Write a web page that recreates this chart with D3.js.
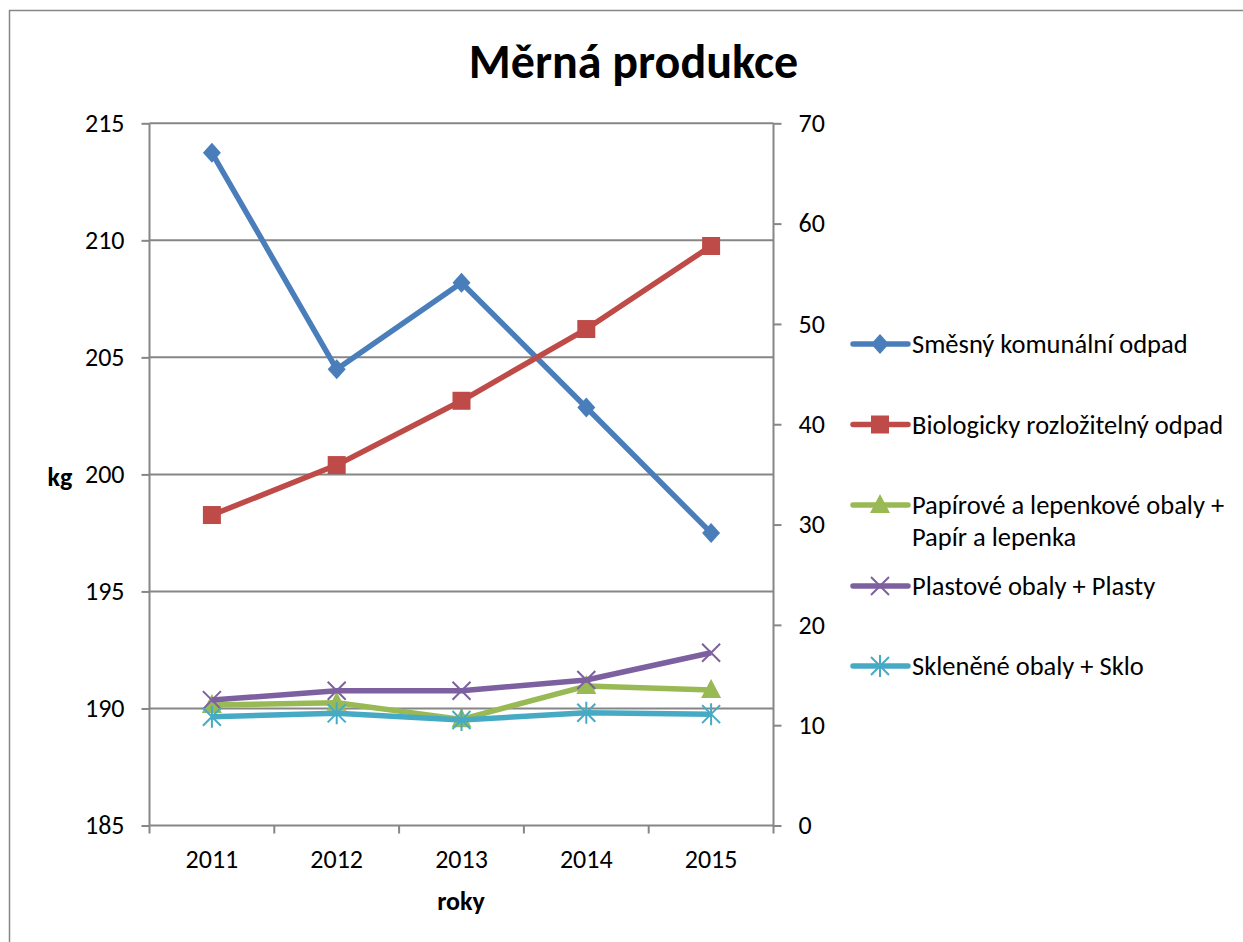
<!DOCTYPE html>
<html>
<head>
<meta charset="utf-8">
<script src="https://cdn.jsdelivr.net/npm/d3@7"></script>
<style>
  body { margin: 0; background: #fff; }
  svg text { font-family: Calibri, Carlito, Lato, sans-serif; fill: #000; }
</style>
</head>
<body>
<script>
// data
var years = ["2011", "2012", "2013", "2014", "2015"];
var smesny = [213.74, 204.49, 208.19, 202.86, 197.5];    // left axis
var bio = [30.95, 35.93, 42.34, 49.49, 57.77];           // right axis
var papir = [12.0, 12.23, 10.58, 13.9, 13.5];
var plasty = [12.5, 13.43, 13.43, 14.5, 17.22];
var sklo = [10.84, 11.18, 10.51, 11.24, 11.1];
var leftTicks = [185, 190, 195, 200, 205, 210, 215];
var rightTicks = [0, 10, 20, 30, 40, 50, 60, 70];

var series = [
  {name: "Směsný komunální odpad", values: smesny, axis: "left", color: "#4A7EBB", marker: "diamond"},
  {name: "Biologicky rozložitelný odpad", values: bio, axis: "right", color: "#BE4B48", marker: "square"},
  {name: ["Papírové a lepenkové obaly +", "Papír a lepenka"], values: papir, axis: "right", color: "#98B954", marker: "triangle"},
  {name: "Plastové obaly + Plasty", values: plasty, axis: "right", color: "#7D60A0", marker: "x"},
  {name: "Skleněné obaly + Sklo", values: sklo, axis: "right", color: "#46AAC5", marker: "star"}
];

var width = 1243, height = 942;
var plot = {left: 149.5, right: 773.5, top: 123.3, bottom: 825.5};
var gridColor = "#868686";

var svg = d3.select("body").append("svg")
  .attr("width", width)
  .attr("height", height);

// chart frame
svg.append("rect")
  .attr("x", 9.5).attr("y", 10.5)
  .attr("width", 1260).attr("height", 960)
  .style("fill", "none").style("stroke", gridColor).style("stroke-width", 1.5);

var x = d3.scaleBand().domain(years).range([plot.left, plot.right]);
var yL = d3.scaleLinear().domain([185, 215]).range([plot.bottom, plot.top]);
var yR = d3.scaleLinear().domain([0, 70]).range([plot.bottom, plot.top]);

// gridlines
svg.append("g").selectAll("line")
  .data(leftTicks.slice(1))
  .enter().append("line")
  .attr("x1", plot.left).attr("x2", plot.right)
  .attr("y1", function(d){ return yL(d); })
  .attr("y2", function(d){ return yL(d); })
  .style("stroke", gridColor).style("stroke-width", 2);

// left axis
var leftAxis = svg.append("g")
  .attr("transform", "translate(" + plot.left + ",0)")
  .call(d3.axisLeft(yL).tickValues(leftTicks).tickSize(8).tickPadding(17).tickFormat(d3.format("d")));

// right axis
var rightAxis = svg.append("g")
  .attr("transform", "translate(" + plot.right + ",0)")
  .call(d3.axisRight(yR).tickValues(rightTicks).tickSize(8).tickPadding(17).tickFormat(d3.format("d")));

// bottom axis, ticks on category boundaries
var bottomAxis = svg.append("g")
  .attr("transform", "translate(0," + plot.bottom + ")")
  .call(d3.axisBottom(x).tickSize(0).tickPadding(24));
bottomAxis.selectAll(".bound")
  .data(d3.range(years.length + 1))
  .enter().append("line")
  .attr("class", "bound")
  .attr("x1", function(i){ return plot.left + i * x.step(); })
  .attr("x2", function(i){ return plot.left + i * x.step(); })
  .attr("y1", 0).attr("y2", 8)
  .style("stroke", gridColor).style("stroke-width", 2);

[leftAxis, rightAxis, bottomAxis].forEach(function(a){
  a.select(".domain").style("stroke", gridColor).style("stroke-width", 2);
  a.selectAll(".tick line").style("stroke", gridColor).style("stroke-width", 2);
  a.selectAll(".tick text").style("font-size", "26px").style("fill", "#000");
});
leftAxis.select(".domain").attr("d", "M0," + plot.top + "V" + plot.bottom);
rightAxis.select(".domain").attr("d", "M0," + plot.top + "V" + plot.bottom);
bottomAxis.select(".domain").attr("d", "M" + plot.left + ",0H" + plot.right);

// titles
svg.append("text")
  .attr("x", 633.5).attr("y", 78)
  .attr("text-anchor", "middle")
  .style("font-size", "48px").style("font-weight", "bold")
  .text("Měrná produkce");

svg.append("text")
  .attr("x", 60).attr("y", 486)
  .attr("text-anchor", "middle")
  .style("font-size", "26px").style("font-weight", "bold")
  .text("kg");

svg.append("text")
  .attr("x", 461).attr("y", 910)
  .attr("text-anchor", "middle")
  .style("font-size", "26px").style("font-weight", "bold")
  .text("roky");

// markers
function drawMarker(g, type, color, cx, cy) {
  if (type == "diamond") {
    g.append("path")
      .attr("d", "M" + cx + "," + (cy - 10) + "L" + (cx + 9) + "," + cy + "L" + cx + "," + (cy + 10) + "L" + (cx - 9) + "," + cy + "Z")
      .style("fill", color);
  } else if (type == "square") {
    g.append("rect")
      .attr("x", cx - 9).attr("y", cy - 9)
      .attr("width", 18).attr("height", 18)
      .style("fill", color);
  } else if (type == "triangle") {
    g.append("path")
      .attr("d", "M" + cx + "," + (cy - 11) + "L" + (cx + 10) + "," + (cy + 8) + "L" + (cx - 10) + "," + (cy + 8) + "Z")
      .style("fill", color);
  } else if (type == "x") {
    g.append("path")
      .attr("d", "M" + (cx - 9) + "," + (cy - 9) + "L" + (cx + 9) + "," + (cy + 9) + "M" + (cx + 9) + "," + (cy - 9) + "L" + (cx - 9) + "," + (cy + 9))
      .style("stroke", color).style("stroke-width", 2).style("fill", "none");
  } else if (type == "star") {
    g.append("path")
      .attr("d", "M" + (cx - 9) + "," + (cy - 9) + "L" + (cx + 9) + "," + (cy + 9) + "M" + (cx + 9) + "," + (cy - 9) + "L" + (cx - 9) + "," + (cy + 9) +
        "M" + cx + "," + (cy - 11) + "L" + cx + "," + (cy + 11))
      .style("stroke", color).style("stroke-width", 2).style("fill", "none");
  }
}

series.forEach(function(s){
  var y = s.axis == "left" ? yL : yR;
  var g = svg.append("g");
  var line = d3.line()
    .x(function(d, i){ return x(years[i]) + x.bandwidth() / 2; })
    .y(function(d){ return y(d); });
  g.append("path")
    .datum(s.values)
    .attr("d", line)
    .style("fill", "none")
    .style("stroke", s.color)
    .style("stroke-width", 5.5)
    .style("stroke-linejoin", "round");
  s.values.forEach(function(v, i){
    drawMarker(g, s.marker, s.color, x(years[i]) + x.bandwidth() / 2, y(v));
  });
});

// legend
var legendRows = [344, 424.5, 505, 586, 666];
series.forEach(function(s, i){
  var g = svg.append("g").attr("transform", "translate(0," + legendRows[i] + ")");
  g.append("line")
    .attr("x1", 853).attr("x2", 908).attr("y1", 0).attr("y2", 0)
    .style("stroke", s.color).style("stroke-width", 5.5).style("stroke-linecap", "round");
  drawMarker(g, s.marker, s.color, 880, 0);
  var lines = Array.isArray(s.name) ? s.name : [s.name];
  lines.forEach(function(t, j){
    g.append("text")
      .attr("x", 912).attr("y", 9 + j * 32)
      .style("font-size", "26.5px")
      .text(t);
  });
});
</script>
</body>
</html>
